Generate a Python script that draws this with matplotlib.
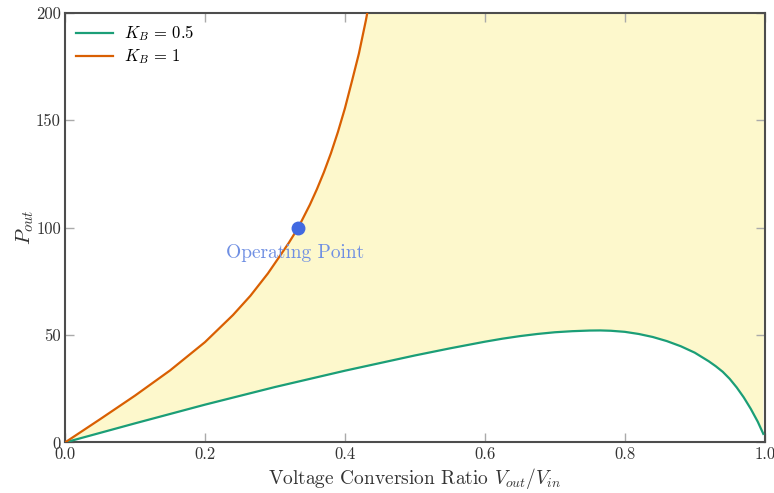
import matplotlib
matplotlib.use("Agg")
import matplotlib.pyplot as plt

plt.rcParams.update({
    "font.family": ["cmr10", "DejaVu Serif"],
    "mathtext.fontset": "cm",
    "axes.formatter.use_mathtext": True,
    "axes.unicode_minus": False,
})

# Output power versus conversion ratio for two values of K_B
ratio_kb1 = [0.0, 0.05, 0.10, 0.15, 0.20, 0.24, 0.265, 0.29, 0.31, 0.32,
             0.3333, 0.35, 0.36, 0.37, 0.38, 0.39, 0.40, 0.41, 0.42, 0.43, 0.436]
power_kb1 = [0.0, 10.8, 21.8, 33.5, 46.7, 59.3, 68.3, 78.7, 88.2, 93.0,
             100.0, 110.7, 117.9, 125.8, 134.6, 144.5, 155.5, 168.1, 181.0, 196.5, 207.0]

ratio_kb05 = [0.0, 0.10, 0.20, 0.30, 0.40, 0.50, 0.55, 0.60, 0.625, 0.65,
              0.675, 0.70, 0.725, 0.75, 0.765, 0.78, 0.80, 0.82, 0.84, 0.86,
              0.88, 0.90, 0.92, 0.93, 0.94, 0.95, 0.96, 0.97, 0.98, 0.99, 0.998]
power_kb05 = [0.0, 8.9, 17.6, 25.8, 33.4, 40.5, 43.8, 46.9, 48.3, 49.5,
              50.5, 51.3, 51.8, 52.1, 52.15, 52.0, 51.5, 50.5, 49.1, 47.2,
              44.8, 41.8, 37.8, 35.5, 32.9, 29.6, 25.6, 21.0, 15.7, 9.7, 4.0]

operating_ratio = 1 / 3
operating_power = 100.0

x_limits = (0.0, 1.0)
y_limits = (0, 200)
x_ticks = [0.0, 0.2, 0.4, 0.6, 0.8, 1.0]
y_ticks = [0, 50, 100, 150, 200]

green = "#1b9e77"
orange = "#d95f02"
fill_color = "#fdf8cc"

fig = plt.figure(figsize=(7.74, 4.93), dpi=100)
ax = fig.add_axes([0.084, 0.1025, 0.904, 0.8715])

# Region between the two curves, closed along the top edge of the axes
poly_x = ratio_kb1 + [x_limits[1]] + ratio_kb05[::-1]
poly_y = power_kb1 + [max(power_kb1)] + power_kb05[::-1]
ax.fill(poly_x, poly_y, color=fill_color, lw=0, zorder=1)

ax.plot(ratio_kb05, power_kb05, color=green, lw=1.6, label=r"$K_B\,=\,0.5$", zorder=3)
ax.plot(ratio_kb1, power_kb1, color=orange, lw=1.6, label=r"$K_B\,=\,1$", zorder=3)

ax.plot([operating_ratio], [operating_power], "o", color="#4169e1",
        markersize=9, zorder=4)
ax.text(operating_ratio - 0.005, operating_power - 12.0, "Operating Point",
        color="#6f8fe3", fontsize=14, ha="center", va="center", zorder=5)

ax.set_xlim(*x_limits)
ax.set_ylim(*y_limits)
ax.set_xticks(x_ticks)
ax.set_yticks(y_ticks)
ax.set_xticklabels([f"{t:.1f}" for t in x_ticks])
ax.set_yticklabels([str(t) for t in y_ticks])

for s in ax.spines.values():
    s.set_color("#4d4d4d")
    s.set_linewidth(1.5)
ax.tick_params(direction="in", length=6.5, width=1, color="#aaaaaa",
               top=True, right=True, labelsize=12, labelcolor="#333333", pad=3)

ax.set_xlabel(r"Voltage Conversion Ratio $V_{out}/V_{in}$", fontsize=14,
              color="#333333", labelpad=3)
ax.set_ylabel(r"$P_{out}$", fontsize=15, color="#333333", labelpad=0)

leg = ax.legend(loc="upper left", frameon=False, fontsize=12,
                handlelength=2.2, handletextpad=0.7, labelspacing=0.25,
                borderaxespad=0.25)

fig.savefig("out.png", dpi=100)
